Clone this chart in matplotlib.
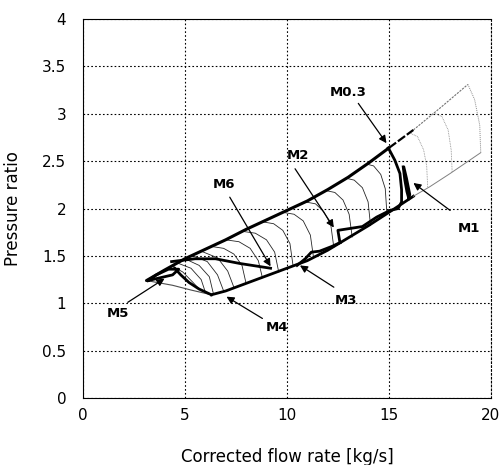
import numpy as np
import matplotlib
matplotlib.use("Agg")
import matplotlib.pyplot as plt

# ---- surge / choke boundary ----
surge_x = [3.12, 4.0, 5.0, 6.0, 7.0, 8.0, 9.0, 10.0, 11.0, 12.0, 13.0, 14.0, 15.0]
surge_y = [1.24, 1.35, 1.47, 1.57, 1.67, 1.78, 1.88, 1.98, 2.08, 2.20, 2.33, 2.48, 2.64]
surge_ext_x = [15.0, 16.2]
surge_ext_y = [2.64, 2.83]
surge_gray_x = [16.2, 17.5, 18.87]
surge_gray_y = [2.83, 3.06, 3.31]

choke_x = [18.87, 19.2, 19.45, 19.5]
choke_y = [3.31, 3.15, 2.88, 2.59]

lower_x = [6.3, 7.0, 8.0, 9.0, 10.0, 11.0, 12.0, 13.0, 14.0, 15.0, 16.2]
lower_y = [1.09, 1.13, 1.21, 1.29, 1.37, 1.45, 1.56, 1.69, 1.82, 1.96, 2.13]
lower_gray_x = [16.2, 17.0, 18.0, 19.5]
lower_gray_y = [2.13, 2.23, 2.37, 2.59]

left_gray_x = [3.12, 4.4, 5.3, 6.3]
left_gray_y = [1.24, 1.19, 1.14, 1.09]

# ---- speed lines ----
speed_x = [
    [4.4, 4.9, 5.4, 5.7],
    [4.7, 5.3, 5.8, 6.0],
    [5.0, 5.7, 6.2, 6.4],
    [5.4, 6.1, 6.6, 6.9],
    [5.8, 6.6, 7.1, 7.4],
    [6.3, 6.9, 7.4, 7.8, 8.0],
    [7.0, 7.65, 8.2, 8.6, 8.8],
    [7.8, 8.45, 9.0, 9.4, 9.6],
    [8.8, 9.35, 9.8, 10.15, 10.3],
    [9.8, 10.35, 10.8, 11.15, 11.3],
    [10.9, 11.4, 11.8, 12.15, 12.3],
    [11.9, 12.35, 12.75, 13.05, 13.2],
    [12.9, 13.3, 13.7, 13.98, 14.1],
    [13.9, 14.25, 14.6, 14.82, 14.9],
]
speed_y = [
    [1.39, 1.33, 1.22, 1.15],
    [1.42, 1.37, 1.25, 1.12],
    [1.47, 1.40, 1.28, 1.10],
    [1.50, 1.44, 1.30, 1.13],
    [1.55, 1.48, 1.34, 1.17],
    [1.60, 1.58, 1.52, 1.40, 1.21],
    [1.67, 1.65, 1.58, 1.45, 1.27],
    [1.76, 1.74, 1.67, 1.54, 1.33],
    [1.86, 1.84, 1.77, 1.63, 1.40],
    [1.96, 1.94, 1.87, 1.72, 1.49],
    [2.07, 2.05, 1.97, 1.83, 1.59],
    [2.19, 2.17, 2.09, 1.94, 1.70],
    [2.32, 2.30, 2.22, 2.07, 1.82],
    [2.47, 2.45, 2.36, 2.21, 1.95],
]
gray_speed_x = [[16.0, 16.4, 16.7, 16.85, 16.9], [17.2, 17.6, 17.9, 18.05, 18.1]]
gray_speed_y = [[2.80, 2.76, 2.62, 2.45, 2.22], [3.01, 2.97, 2.83, 2.62, 2.38]]

# ---- operating lines ----
m03_x = [14.97, 15.29, 15.54, 15.62, 15.62, 15.45, 15.05]
m03_y = [2.64, 2.51, 2.37, 2.20, 2.07, 2.00, 1.98]
m1_x = [15.70, 15.78, 15.88, 15.98, 16.02, 15.86, 15.74]
m1_y = [2.44, 2.30, 2.18, 2.10, 2.15, 2.32, 2.43]
m2_x = [12.6, 12.5, 13.1, 13.7, 14.4, 15.05]
m2_y = [1.64, 1.77, 1.79, 1.81, 1.91, 1.98]
m3_x = [10.5, 10.9, 11.2, 11.6, 12.2, 12.6]
m3_y = [1.40, 1.47, 1.54, 1.55, 1.60, 1.64]
m4_x = [4.5, 4.8, 5.2, 5.7, 6.3]
m4_y = [1.37, 1.30, 1.22, 1.15, 1.09]
m5_x = [3.2, 3.8, 4.4, 4.7, 4.2, 3.6, 3.2]
m5_y = [1.24, 1.27, 1.30, 1.36, 1.36, 1.30, 1.24]
m6_x = [4.35, 5.5, 6.5, 7.7, 9.2]
m6_y = [1.44, 1.47, 1.47, 1.42, 1.37]

# ---- labels: text, label pos, arrow tail, arrow tip ----
label_names = ["M0.3", "M1", "M2", "M3", "M4", "M5", "M6"]
label_pos = [(13.0, 3.22), (18.9, 1.79), (10.55, 2.56), (12.9, 1.03),
             (9.5, 0.74), (1.73, 0.89), (6.9, 2.25)]
arrow_tail = [(13.5, 3.11), (18.0, 1.98), (10.4, 2.42), (12.3, 1.17),
              (8.8, 0.84), (2.2, 1.01), (7.2, 2.12)]
arrow_tip = [(14.88, 2.69), (16.2, 2.27), (12.3, 1.80), (10.64, 1.40),
             (7.04, 1.07), (4.0, 1.26), (9.2, 1.39)]

fig = plt.figure(figsize=(5.02, 4.65), dpi=100)
ax = fig.add_axes([0.165, 0.144, 0.813, 0.815])

for xs, ys in zip(speed_x, speed_y):
    ax.plot(xs, ys, color="0.15", lw=0.6)
for xs, ys in zip(gray_speed_x, gray_speed_y):
    ax.plot(xs, ys, color="0.55", lw=0.6, ls=(0, (1, 1)))

ax.plot(surge_x, surge_y, color="black", lw=2.2, solid_capstyle="round")
ax.plot(surge_ext_x, surge_ext_y, color="black", lw=1.6, ls=(0, (4, 1)))
ax.plot(surge_gray_x, surge_gray_y, color="0.45", lw=0.8, ls=(0, (2, 1)))
ax.plot(choke_x, choke_y, color="0.55", lw=0.7, ls=(0, (1, 1)))
ax.plot(lower_x, lower_y, color="black", lw=2.0)
ax.plot(lower_gray_x, lower_gray_y, color="0.5", lw=0.7)
ax.plot(left_gray_x, left_gray_y, color="0.3", lw=0.8)

for xs, ys in [(m03_x, m03_y), (m1_x, m1_y), (m2_x, m2_y), (m3_x, m3_y),
               (m4_x, m4_y), (m5_x, m5_y), (m6_x, m6_y)]:
    ax.plot(xs, ys, color="black", lw=2.0)

for name, pos, tail, tip in zip(label_names, label_pos, arrow_tail, arrow_tip):
    ax.text(pos[0], pos[1], name, ha="center", va="center",
            fontsize=9.5, fontweight="bold")
    ax.annotate("", xy=tip, xytext=tail,
                arrowprops=dict(arrowstyle="-|>", color="black", lw=0.9,
                                mutation_scale=11, shrinkA=0, shrinkB=0))

ax.set_xlim(0, 20)
ax.set_ylim(0, 4)
ax.set_xticks([0, 5, 10, 15, 20])
ax.set_yticks([0, 0.5, 1, 1.5, 2, 2.5, 3, 3.5, 4])
ax.set_yticklabels(["0", "0.5", "1", "1.5", "2", "2.5", "3", "3.5", "4"])
ax.grid(True, color="black", ls=(0, (1.5, 2)), lw=0.8)
ax.tick_params(length=0, labelsize=11, pad=7)
ax.tick_params(axis="y", pad=12)
for side in ["left", "top", "bottom"]:
    ax.spines[side].set_linestyle((0, (4, 1)))
    ax.spines[side].set_linewidth(0.8)
ax.spines["right"].set_linestyle((0, (1.5, 2)))
ax.spines["right"].set_linewidth(0.8)

ax.set_xlabel("Corrected flow rate [kg/s]", fontsize=12, labelpad=18)
ax.set_ylabel("Pressure ratio", fontsize=12, labelpad=14)

plt.savefig("out.png", dpi=100)
plt.close()
